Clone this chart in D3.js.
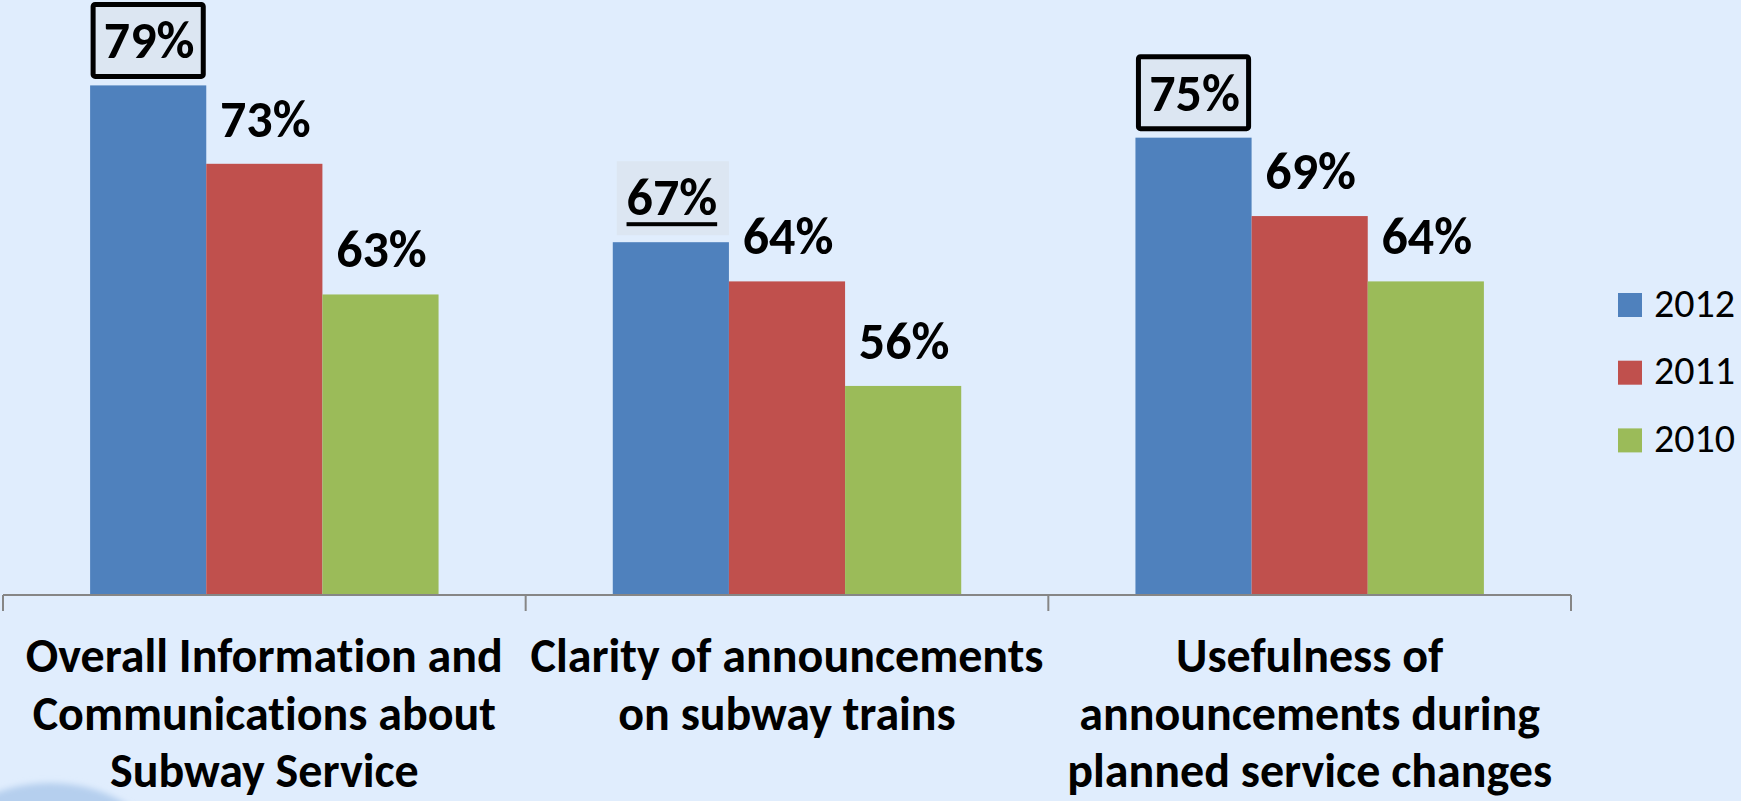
<!DOCTYPE html>
<html>
<head>
<meta charset="utf-8">
<script src="https://cdn.jsdelivr.net/npm/d3@7"></script>
<style>
  html, body { margin: 0; padding: 0; background: #e0edfd; }
  svg { display: block; }
  text { font-variant-ligatures: none; }
</style>
</head>
<body>
<svg id="chart" width="1741" height="801"></svg>
<script>
// Survey categories (each label is split into display lines)
const categories = [
  "Overall Information and Communications about Subway Service",
  "Clarity of announcements on subway trains",
  "Usefulness of announcements during planned service changes"
];
const categoryLines = [
  ["Overall Information and", "Communications about", "Subway Service"],
  ["Clarity of announcements", "on subway trains"],
  ["Usefulness of", "announcements during", "planned service changes"]
];
const years = ["2012", "2011", "2010"];
const values2012 = [79, 67, 75];
const values2011 = [73, 64, 69];
const values2010 = [63, 56, 64];
const seriesColors = ["#4f81bd", "#c0504d", "#9bbb59"];
// How the 2012 label is emphasised in each category
const highlightStyle = ["boxed", "underlined", "boxed"];

const series = [values2012, values2011, values2010];
const rows = categories.map((c, i) => ({
  category: c,
  lines: categoryLines[i],
  values: years.map((y, j) => ({ year: y, value: series[j][i], cat: i, s: j }))
}));

const svg = d3.select("#chart");
const FONT = "Carlito, Lato, 'Open Sans', sans-serif";

// soft decorative shape in the lower-left corner
const defs = svg.append("defs");
defs.append("filter").attr("id", "soft")
  .attr("x", "-50%").attr("y", "-50%").attr("width", "200%").attr("height", "200%")
  .append("feGaussianBlur").attr("stdDeviation", 3);
svg.append("ellipse")
  .attr("cx", 50).attr("cy", 872).attr("rx", 118).attr("ry", 89)
  .attr("fill", "#b5cfee").attr("filter", "url(#soft)");

// scales
const plotLeft = 3, plotRight = 1571, baseline = 595, plotTop = 7;
const x0 = d3.scaleBand().domain(d3.range(categories.length))
  .range([plotLeft, plotRight]).padding(0);
const bandW = x0.bandwidth();
const gap = bandW * 1.5 / 4.5 / 2;   // 150% gap width split on both sides
const x1 = d3.scaleBand().domain(d3.range(years.length))
  .range([gap, bandW - gap]).padding(0);
const y = d3.scaleLinear().domain([40, 85]).range([baseline, plotTop]);

// bars
const groups = svg.append("g").selectAll("g.cat")
  .data(rows).join("g")
  .attr("class", "cat")
  .attr("transform", (d, i) => `translate(${x0(i)},0)`);

groups.selectAll("rect.bar")
  .data(d => d.values).join("rect")
  .attr("class", "bar")
  .attr("x", d => x1(d.s))
  .attr("y", d => y(d.value))
  .attr("width", x1.bandwidth())
  .attr("height", d => baseline - y(d.value))
  .attr("fill", d => seriesColors[d.s]);

// emphasis behind / around the 2012 labels
const labelGap = 27;
groups.each(function (d, i) {
  const v = d.values[0];
  const g = d3.select(this);
  const bx = x1(v.s), bw = x1.bandwidth();
  const base = y(v.value) - labelGap;
  if (highlightStyle[i] === "boxed") {
    g.append("rect")
      .attr("x", bx + 3).attr("y", base - 54)
      .attr("width", bw - 6).attr("height", 72)
      .attr("rx", 2)
      .attr("fill", "#dce6f2").attr("stroke", "#000").attr("stroke-width", 5);
  } else {
    g.append("rect")
      .attr("x", bx + 4).attr("y", base - 54)
      .attr("width", bw - 4).attr("height", 74)
      .attr("fill", "#dce6f2");
  }
});

// value labels
groups.selectAll("text.val")
  .data(d => d.values).join("text")
  .attr("class", "val")
  .attr("x", d => x1(d.s) + x1.bandwidth() / 2 + 1)
  .attr("y", d => y(d.value) - labelGap)
  .attr("text-anchor", "middle")
  .attr("font-family", FONT)
  .attr("font-weight", "bold")
  .attr("font-size", 52)
  .attr("fill", "#000")
  .text(d => d.value + "%");

// underline under the highlighted label
groups.each(function (d, i) {
  if (highlightStyle[i] !== "underlined") return;
  const t = d3.select(this).selectAll("text.val").filter(v => v.s === 0).node();
  const bb = t.getBBox();
  d3.select(this).append("rect")
    .attr("x", bb.x).attr("y", y(d.values[0].value) - labelGap + 7)
    .attr("width", bb.width).attr("height", 4)
    .attr("fill", "#000");
});

// category axis
const axisG = svg.append("g").attr("transform", `translate(0,${baseline})`);
axisG.append("line")
  .attr("x1", plotLeft).attr("x2", plotRight)
  .attr("y1", 0).attr("y2", 0)
  .attr("stroke", "#868686").attr("stroke-width", 2);
const tickXs = d3.range(categories.length + 1).map(i => plotLeft + i * bandW);
axisG.selectAll("line.tick")
  .data(tickXs).join("line")
  .attr("class", "tick")
  .attr("x1", d => d).attr("x2", d => d)
  .attr("y1", 0).attr("y2", 16)
  .attr("stroke", "#868686").attr("stroke-width", 2);

// category labels
const catText = svg.append("g").selectAll("text")
  .data(rows).join("text")
  .attr("x", (d, i) => x0(i) + bandW / 2)
  .attr("y", 672)
  .attr("text-anchor", "middle")
  .attr("font-family", FONT)
  .attr("font-weight", "bold")
  .attr("font-size", 48)
  .attr("fill", "#000");
catText.selectAll("tspan")
  .data(d => d.lines).join("tspan")
  .attr("x", function () { return this.parentNode.getAttribute("x"); })
  .attr("dy", (d, i) => i === 0 ? 0 : 57.5)
  .text(d => d);

// legend
const legend = svg.append("g").attr("transform", "translate(1618,293)");
const li = legend.selectAll("g").data(years).join("g")
  .attr("transform", (d, i) => `translate(0,${i * 67.7})`);
li.append("rect").attr("width", 24).attr("height", 24)
  .attr("fill", (d, i) => seriesColors[i]);
li.append("text")
  .attr("x", 36).attr("y", 23.5)
  .attr("font-family", FONT)
  .attr("font-size", 40)
  .attr("fill", "#000")
  .text(d => d);
</script>
</body>
</html>
